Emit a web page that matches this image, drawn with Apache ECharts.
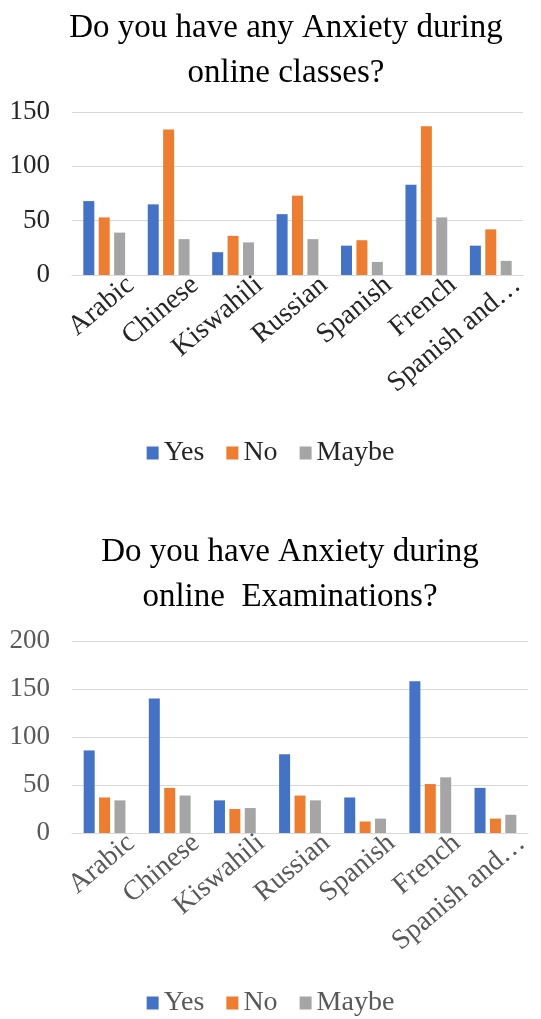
<!DOCTYPE html>
<html>
<head>
<meta charset="utf-8">
<script src="https://cdn.jsdelivr.net/npm/echarts@6/dist/echarts.min.js"></script>
<style>html,body{margin:0;padding:0;background:#fff;}#c{width:541px;height:1019px;}</style>
</head>
<body>
<div id="c"></div>
<script>
const categories = ['Arabic', 'Chinese', 'Kiswahili', 'Russian', 'Spanish', 'French', 'Spanish and…'];
const seriesNames = ['Yes', 'No', 'Maybe'];
const classesYes = [68, 65, 21, 56, 27, 83, 27];
const classesNo = [53, 134, 36, 73, 32, 137, 42];
const classesMaybe = [39, 33, 30, 33, 12, 53, 13];
const examsYes = [86, 140, 34, 82, 37, 158, 47];
const examsNo = [37, 47, 25, 39, 12, 51, 15];
const examsMaybe = [34, 39, 26, 34, 15, 58, 19];
const classesTicks = [0, 150, 50];
const examsTicks = [0, 200, 50];
const title1 = 'Do you have any Anxiety during\nonline classes?';
const title2 = 'Do you have Anxiety during\nonline  Examinations?';

const colors = ['#4472C4', '#ED7D31', '#A5A5A5'];
const FONT = '"Liberation Serif", "Times New Roman", serif';

function bars(data, idx, axisIdx) {
  return {
    type: 'bar', name: seriesNames[idx], data: data,
    xAxisIndex: axisIdx, yAxisIndex: axisIdx,
    barWidth: 11, barGap: '40%',
    itemStyle: { color: colors[idx] }
  };
}
function xAx(gridIndex, color) {
  return {
    type: 'category', gridIndex: gridIndex, data: categories,
    axisTick: { show: false },
    axisLine: { lineStyle: { color: '#d9d9d9', width: 1 } },
    axisLabel: { rotate: 40, interval: 0, fontFamily: FONT, fontSize: 28, color: color,
      margin: 0, verticalAlign: 'top', padding: [8, -16, 0, 0] }
  };
}
function yAx(gridIndex, ticks, color) {
  return {
    type: 'value', gridIndex: gridIndex, min: ticks[0], max: ticks[1], interval: ticks[2],
    axisLine: { show: false }, axisTick: { show: false },
    splitLine: { lineStyle: { color: '#d9d9d9', width: 1 } },
    axisLabel: { fontFamily: FONT, fontSize: 27, color: color, margin: 22 }
  };
}
const chart = echarts.init(document.getElementById('c'), null, { renderer: 'canvas' });
chart.setOption({
  animation: false,
  backgroundColor: '#fff',
  title: [
    { text: title1, left: 281, top: 1, textAlign: 'center',
      textStyle: { fontFamily: FONT, fontSize: 33, fontWeight: 'normal', color: '#000', lineHeight: 45 } },
    { text: title2, left: 285, top: 525, textAlign: 'center',
      textStyle: { fontFamily: FONT, fontSize: 33, fontWeight: 'normal', color: '#000', lineHeight: 45 } }
  ],
  legend: [
    { data: seriesNames.map((n, i) => ({ name: n, itemStyle: { color: colors[i] } })),
      left: 'center', top: 434, icon: 'rect', itemWidth: 12, itemHeight: 13, itemGap: 22,
      textStyle: { fontFamily: FONT, fontSize: 28, color: '#262626' } },
    { data: seriesNames.map((n, i) => ({ name: n, itemStyle: { color: colors[i] } })),
      left: 'center', top: 984, icon: 'rect', itemWidth: 12, itemHeight: 13, itemGap: 22,
      textStyle: { fontFamily: FONT, fontSize: 28, color: '#595959' } }
  ],
  grid: [
    { left: 72, right: 18, top: 112, height: 163 },
    { left: 72, right: 13, top: 641, height: 192 }
  ],
  xAxis: [xAx(0, '#262626'), xAx(1, '#595959')],
  yAxis: [yAx(0, classesTicks, '#262626'), yAx(1, examsTicks, '#595959')],
  series: [
    bars(classesYes, 0, 0), bars(classesNo, 1, 0), bars(classesMaybe, 2, 0),
    bars(examsYes, 0, 1), bars(examsNo, 1, 1), bars(examsMaybe, 2, 1)
  ]
});
</script>
</body>
</html>
